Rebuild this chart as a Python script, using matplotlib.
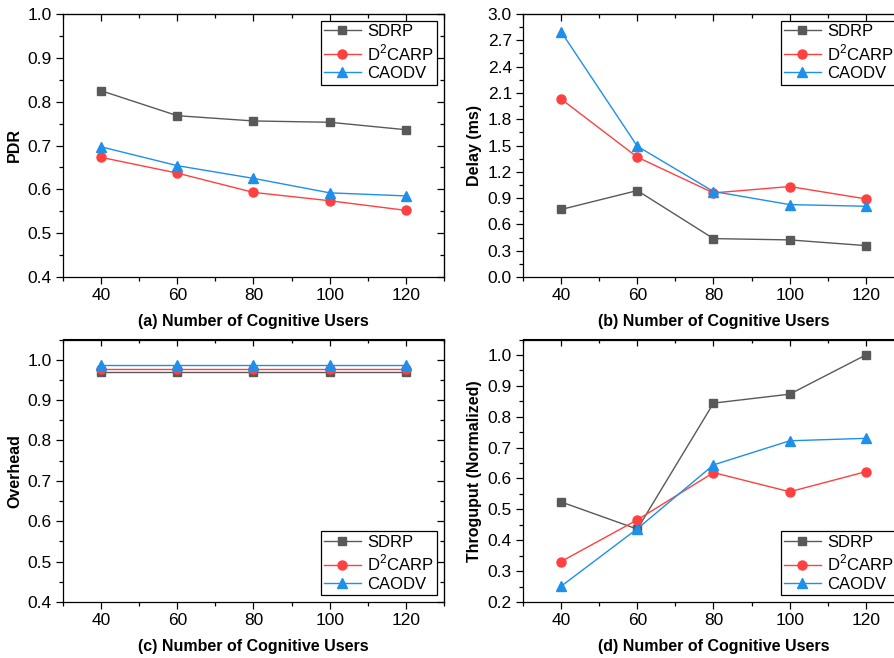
import matplotlib
matplotlib.use("Agg")
import matplotlib.pyplot as plt
from matplotlib.ticker import MultipleLocator

plt.rcParams["font.family"] = ["Liberation Sans", "DejaVu Sans"]
plt.rcParams["mathtext.fontset"] = "custom"
plt.rcParams["mathtext.rm"] = "Liberation Sans"

users = [40, 60, 80, 100, 120]
series_names = ["SDRP", "D$^2$CARP", "CAODV"]

pdr_sdrp = [0.825, 0.768, 0.756, 0.753, 0.736]
pdr_d2carp = [0.673, 0.637, 0.593, 0.574, 0.552]
pdr_caodv = [0.697, 0.654, 0.625, 0.592, 0.585]

delay_sdrp = [0.77, 0.986, 0.438, 0.423, 0.358]
delay_d2carp = [2.03, 1.367, 0.959, 1.032, 0.891]
delay_caodv = [2.798, 1.492, 0.975, 0.826, 0.807]

overhead_sdrp = [0.969, 0.969, 0.969, 0.969, 0.969]
overhead_d2carp = [0.978, 0.978, 0.978, 0.978, 0.978]
overhead_caodv = [0.986, 0.986, 0.986, 0.986, 0.986]

thr_sdrp = [0.524, 0.436, 0.844, 0.873, 1.0]
thr_d2carp = [0.331, 0.466, 0.619, 0.557, 0.622]
thr_caodv = [0.251, 0.437, 0.644, 0.722, 0.730]

colors = ["#595959", "#FF4040", "#1E8FEA"]
markers = ["s", "o", "^"]
msizes = [5.5, 6.5, 6.5]

W, H = 895, 658
fig = plt.figure(figsize=(W / 100, H / 100), dpi=100)


def make_axes(left_px, top_px, bottom_px, width_px=381):
    return fig.add_axes([left_px / W, 1 - bottom_px / H, width_px / W,
                         (bottom_px - top_px) / H])


def draw_panel(ax, data, ylim, ymajor, yminor, ylabel, xlabel, legend_loc):
    for vals, name, c, m, ms in zip(data, series_names, colors, markers, msizes):
        ax.plot(users, vals, color=c, marker=m, markersize=ms, linewidth=1.0,
                label=name)
    ax.set_xlim(30, 130)
    ax.set_ylim(*ylim)
    ax.xaxis.set_major_locator(MultipleLocator(20))
    ax.xaxis.set_minor_locator(MultipleLocator(10))
    ax.yaxis.set_major_locator(MultipleLocator(ymajor))
    ax.yaxis.set_minor_locator(MultipleLocator(yminor))
    ax.tick_params(which="major", direction="out", length=5, width=0.9,
                   labelsize=12.5, pad=3)
    ax.tick_params(which="minor", direction="out", length=3, width=0.9)
    ax.yaxis.set_major_formatter(plt.FormatStrFormatter("%.1f"))
    for s in ax.spines.values():
        s.set_linewidth(0.9)
    # mirrored ticks on top/right, pointing in
    top = ax.secondary_xaxis("top")
    top.xaxis.set_major_locator(MultipleLocator(20))
    top.xaxis.set_minor_locator(MultipleLocator(10))
    top.tick_params(which="major", direction="in", length=5, width=0.9,
                    labeltop=False)
    top.tick_params(which="minor", direction="in", length=3, width=0.9)
    right = ax.secondary_yaxis("right")
    right.yaxis.set_major_locator(MultipleLocator(ymajor))
    right.yaxis.set_minor_locator(MultipleLocator(yminor))
    right.tick_params(which="major", direction="in", length=5, width=0.9,
                      labelright=False)
    right.tick_params(which="minor", direction="in", length=3, width=0.9)
    ax.set_ylabel(ylabel, fontsize=11.5, fontweight="bold", labelpad=4)
    ax.set_xlabel(xlabel, fontsize=11.5, fontweight="bold", labelpad=8)
    leg = ax.legend(loc=legend_loc, fontsize=12, fancybox=False,
                    edgecolor="black", framealpha=1, handlelength=2.2,
                    borderpad=0.2, labelspacing=0.2, handletextpad=0.4,
                    borderaxespad=0.4)
    leg.get_frame().set_linewidth(0.9)


ax_a = make_axes(63, 14, 277)
draw_panel(ax_a, [pdr_sdrp, pdr_d2carp, pdr_caodv], (0.4, 1.0), 0.1, 0.05,
           "PDR", "(a) Number of Cognitive Users", "upper right")

ax_b = make_axes(523, 14, 277)
draw_panel(ax_b, [delay_sdrp, delay_d2carp, delay_caodv], (0.0, 3.0), 0.3, 0.15,
           "Delay (ms)", "(b) Number of Cognitive Users", "upper right")

ax_c = make_axes(63, 339.5, 602)
draw_panel(ax_c, [overhead_sdrp, overhead_d2carp, overhead_caodv], (0.4, 1.05),
           0.1, 0.05, "Overhead", "(c) Number of Cognitive Users", "lower right")

ax_d = make_axes(523, 339.5, 602)
draw_panel(ax_d, [thr_sdrp, thr_d2carp, thr_caodv], (0.2, 1.05), 0.1, 0.05,
           "Throguput (Normalized)", "(d) Number of Cognitive Users",
           "lower right")

fig.savefig("out.png", dpi=100)
